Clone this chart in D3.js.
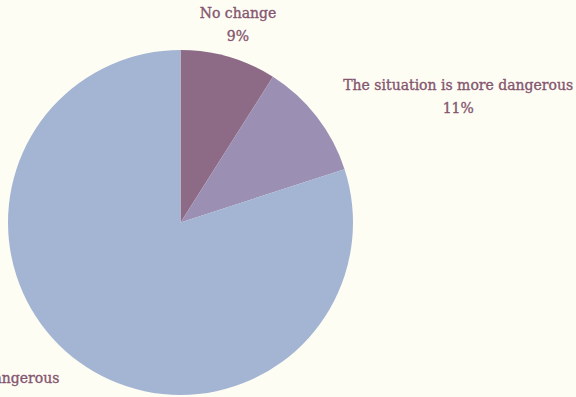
<!DOCTYPE html>
<html>
<head>
<meta charset="utf-8">
<script src="https://cdn.jsdelivr.net/npm/d3@7"></script>
<style>
  html, body { margin: 0; padding: 0; background: #fefdf4; }
  svg { display: block; }
</style>
</head>
<body>
<svg id="chart" width="576" height="397"></svg>
<script>
// Survey answers and their shares (percent)
const categories = ["No change", "The situation is more dangerous", "The situation is less dangerous"];
const shares = [9, 11, 80];
const colors = ["#8d6a86", "#9b8fb4", "#a3b5d3"];

const width = 576, height = 397;
const cx = 180.5, cy = 222.5, radius = 172.5, labelRadius = 206;
const lineGap = 23;
const textColor = "#85566f";

const svg = d3.select("#chart");
svg.append("rect").attr("width", width).attr("height", height).attr("fill", "#fefdf4");

const pie = d3.pie().sort(null).value(d => d.value);
const arcs = pie(categories.map((c, i) => ({ name: c, value: shares[i], color: colors[i] })));

const arc = d3.arc().innerRadius(0).outerRadius(radius);
const labelArc = d3.arc().innerRadius(labelRadius).outerRadius(labelRadius);

const g = svg.append("g").attr("transform", `translate(${cx},${cy})`);

g.selectAll("path.slice")
  .data(arcs)
  .join("path")
  .attr("class", "slice")
  .attr("d", arc)
  .attr("fill", d => d.data.color);

// Two-line labels: name then percentage, block aligned by side of the pie
const labels = g.selectAll("g.label")
  .data(arcs)
  .join("g")
  .attr("class", "label")
  .style("font-family", "'DejaVu Serif', serif")
  .style("font-size", "14px")
  .attr("fill", textColor)
  .attr("stroke", textColor)
  .attr("stroke-width", 0.35);

labels.each(function(d) {
  const [x, y] = labelArc.centroid(d);
  const grp = d3.select(this);
  const t1 = grp.append("text").attr("text-anchor", "middle").attr("y", y - lineGap / 2).attr("dy", "0.35em").text(d.data.name);
  const t2 = grp.append("text").attr("text-anchor", "middle").attr("y", y + lineGap / 2).attr("dy", "0.35em").text(d.data.value + "%");
  const w = Math.max(t1.node().getComputedTextLength(), t2.node().getComputedTextLength());
  let center = x;
  if (x > radius * 0.5) center = x + w / 2;
  else if (x < -radius * 0.5) center = x - w / 2;
  t1.attr("x", center);
  t2.attr("x", center);
});
</script>
</body>
</html>
